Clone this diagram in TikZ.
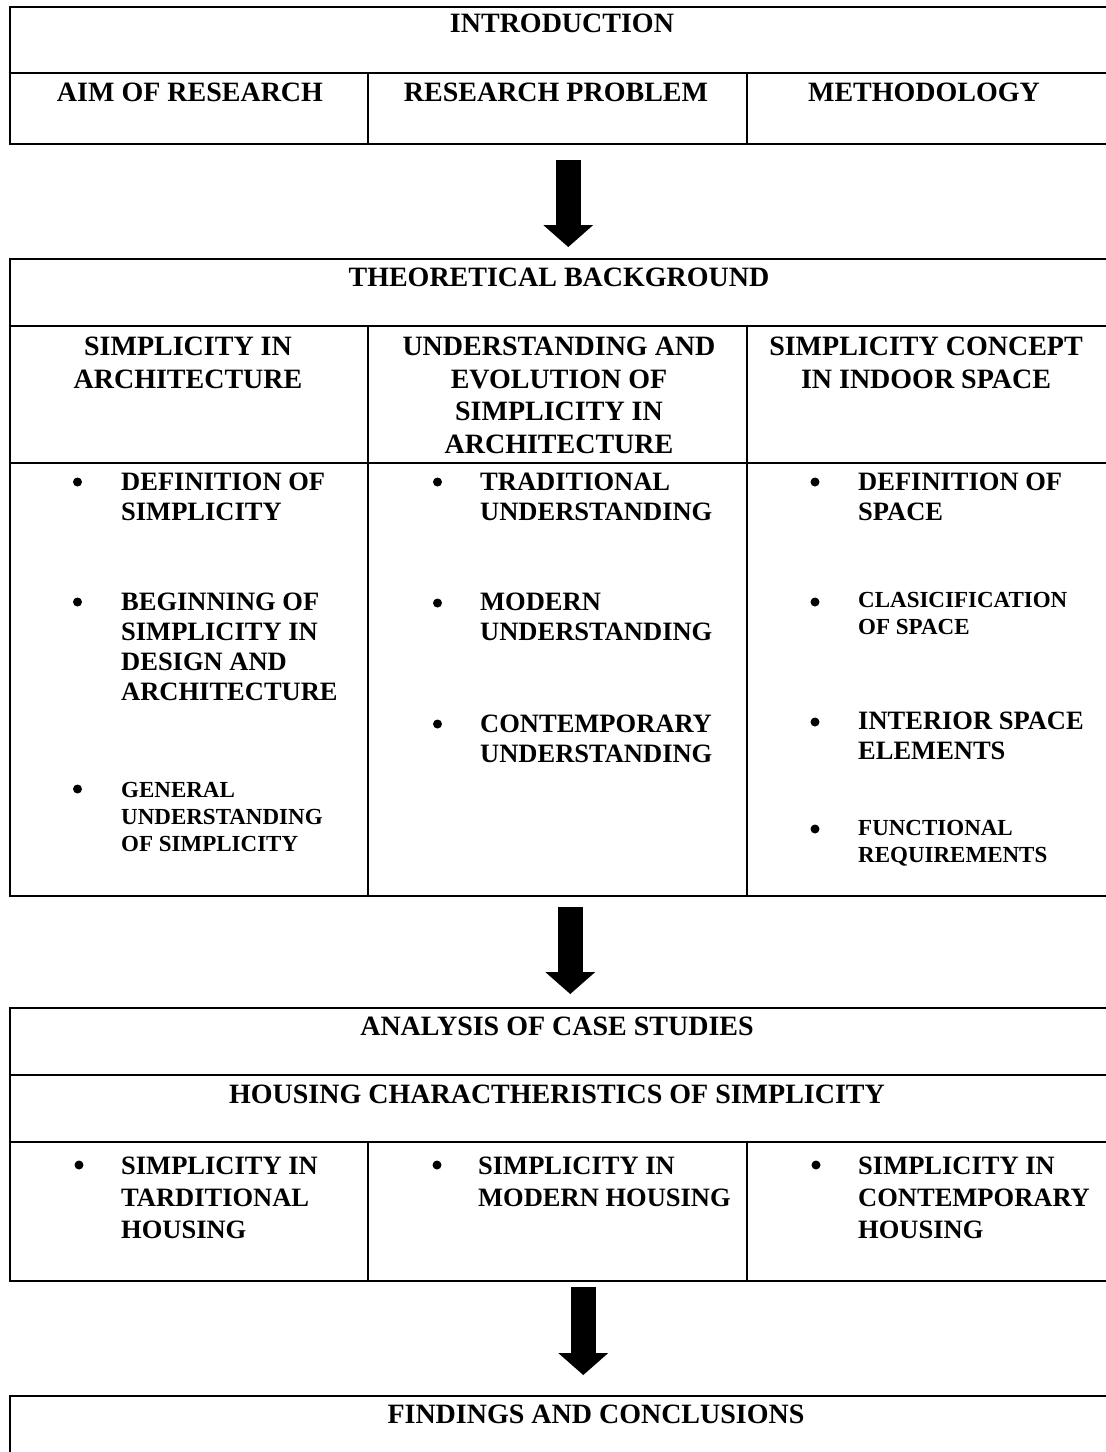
\documentclass[tikz,border=0pt]{standalone}
\usepackage{fontspec}
\setmainfont{Liberation Serif}
\usetikzlibrary{arrows.meta}

\begin{document}
\begin{tikzpicture}[x=1pt,y=-1pt,draw=black!100]
 	\def \lft{8.5}
 	\def \rgt{1110}
 	\def \cola{367.5}
 	\def \colb{746.5}
 	\tikzstyle{frame}=[draw=black!100,rectangle,line width=2pt,inner sep=0pt,anchor=north west,minimum width=1101.5pt]
 	\tikzstyle{head}=[anchor=north,inner sep=0pt,align=center,font=\bfseries\fontsize{28}{32.5}\selectfont]
 	\tikzstyle{item}=[anchor=north west,inner sep=0pt,align=left,font=\bfseries\fontsize{26.5}{30}\selectfont]
 	\tikzstyle{wide}=[item,font=\bfseries\fontsize{26.5}{32}\selectfont]
 	\tikzstyle{small}=[item,font=\bfseries\fontsize{23}{27}\selectfont]
 	\tikzstyle{dot}=[circle,fill=black,inner sep=0pt,minimum size=9pt]
 	\tikzstyle{rule}=[line width=2pt]
 	\tikzstyle{flow}=[line width=25pt,-{Triangle[length=22pt,width=50pt,line width=0pt]}]

 	\useasboundingbox (0,0) rectangle (1106,1452);

 	% introduction
 	\node[frame,minimum height=137pt] 	(intro)	at (\lft,6)		{};
 	\draw[rule] (\lft,73) -- (\rgt,73);
 	\draw[rule] (\cola,73) -- (\cola,143);
 	\draw[rule] (\colb,73) -- (\colb,143);
 	\node[head] 	(t-intro)	at (562,13.5)		{INTRODUCTION};
 	\node[head] 	(t-aim)		at (190,83)		{AIM OF RESEARCH};
 	\node[head] 	(t-prob)	at (556,83)		{RESEARCH PROBLEM};
 	\node[head] 	(t-meth)	at (924,83)		{METHODOLOGY};

 	% theoretical background
 	\node[frame,minimum height=637pt] 	(theory)	at (\lft,258)		{};
 	\draw[rule] (\lft,326) -- (\rgt,326);
 	\draw[rule] (\lft,463) -- (\rgt,463);
 	\draw[rule] (\cola,326) -- (\cola,895);
 	\draw[rule] (\colb,326) -- (\colb,895);
 	\node[head] 	(t-theory)	at (559,268)		{THEORETICAL BACKGROUND};
 	\node[head] 	(h-arch)	at (188,337)		{SIMPLICITY IN\\ARCHITECTURE};
 	\node[head] 	(h-evol)	at (559,337)		{UNDERSTANDING AND\\EVOLUTION OF\\SIMPLICITY IN\\ARCHITECTURE};
 	\node[head] 	(h-space)	at (926,337)		{SIMPLICITY CONCEPT\\IN INDOOR SPACE};

 	\node[dot] 	(d-a1)	at (77.5,482)	{};
 	\node[item] 	(i-a1)	at (121,473)	{DEFINITION OF\\SIMPLICITY};
 	\node[dot] 	(d-a2)	at (77.5,602)	{};
 	\node[item] 	(i-a2)	at (121,593)	{BEGINNING OF\\SIMPLICITY IN\\DESIGN AND\\ARCHITECTURE};
 	\node[dot] 	(d-a3)	at (77.5,789)	{};
 	\node[small] 	(i-a3)	at (121,782)	{GENERAL\\UNDERSTANDING\\OF SIMPLICITY};

 	\node[dot] 	(d-b1)	at (437.5,482)	{};
 	\node[item] 	(i-b1)	at (480,473)	{TRADITIONAL\\UNDERSTANDING};
 	\node[dot] 	(d-b2)	at (437.5,603)	{};
 	\node[item] 	(i-b2)	at (480,593)	{MODERN\\UNDERSTANDING};
 	\node[dot] 	(d-b3)	at (437.5,724)	{};
 	\node[item] 	(i-b3)	at (480,715)	{CONTEMPORARY\\UNDERSTANDING};

 	\node[dot] 	(d-c1)	at (815,482)	{};
 	\node[item] 	(i-c1)	at (858,473)	{DEFINITION OF\\SPACE};
 	\node[dot] 	(d-c2)	at (815,602)	{};
 	\node[small] 	(i-c2)	at (858,592)	{CLASICIFICATION\\OF SPACE};
 	\node[dot] 	(d-c3)	at (815,722)	{};
 	\node[item] 	(i-c3)	at (858,712)	{INTERIOR SPACE\\ELEMENTS};
 	\node[dot] 	(d-c4)	at (815,829)	{};
 	\node[small] 	(i-c4)	at (858,820)	{FUNCTIONAL\\REQUIREMENTS};

 	% case studies
 	\node[frame,minimum height=273pt] 	(cases)	at (\lft,1007)		{};
 	\draw[rule] (\lft,1075) -- (\rgt,1075);
 	\draw[rule] (\lft,1142) -- (\rgt,1142);
 	\draw[rule] (\cola,1142) -- (\cola,1280);
 	\draw[rule] (\colb,1142) -- (\colb,1280);
 	\node[head] 	(t-cases)	at (557,1017)		{ANALYSIS OF CASE STUDIES};
 	\node[head] 	(t-house)	at (557,1085)		{HOUSING CHARACTHERISTICS OF SIMPLICITY};
 	\node[dot] 	(d-h1)	at (79,1165)	{};
 	\node[wide] 	(i-h1)	at (121,1157)	{SIMPLICITY IN\\TARDITIONAL\\HOUSING};
 	\node[dot] 	(d-h2)	at (437,1165)	{};
 	\node[wide] 	(i-h2)	at (478,1157)	{SIMPLICITY IN\\MODERN HOUSING};
 	\node[dot] 	(d-h3)	at (816,1165)	{};
 	\node[wide] 	(i-h3)	at (858,1157)	{SIMPLICITY IN\\CONTEMPORARY\\HOUSING};

 	% findings
 	\node[frame,minimum height=100pt] 	(finds)	at (\lft,1395)		{};
 	\node[head] 	(t-finds)	at (596,1405)		{FINDINGS AND CONCLUSIONS};

 	% arrows
 	\draw[flow] ([xshift=8pt,yshift=-15pt]intro.south) -- ([xshift=8pt,yshift=11pt]theory.north);
 	\draw[flow] ([xshift=10pt,yshift=-10pt]theory.south) -- ([xshift=10pt,yshift=13pt]cases.north);
 	\draw[flow] ([xshift=23pt,yshift=-5pt]cases.south) -- ([xshift=23pt,yshift=20pt]finds.north);

 \end{tikzpicture}
\end{document}
